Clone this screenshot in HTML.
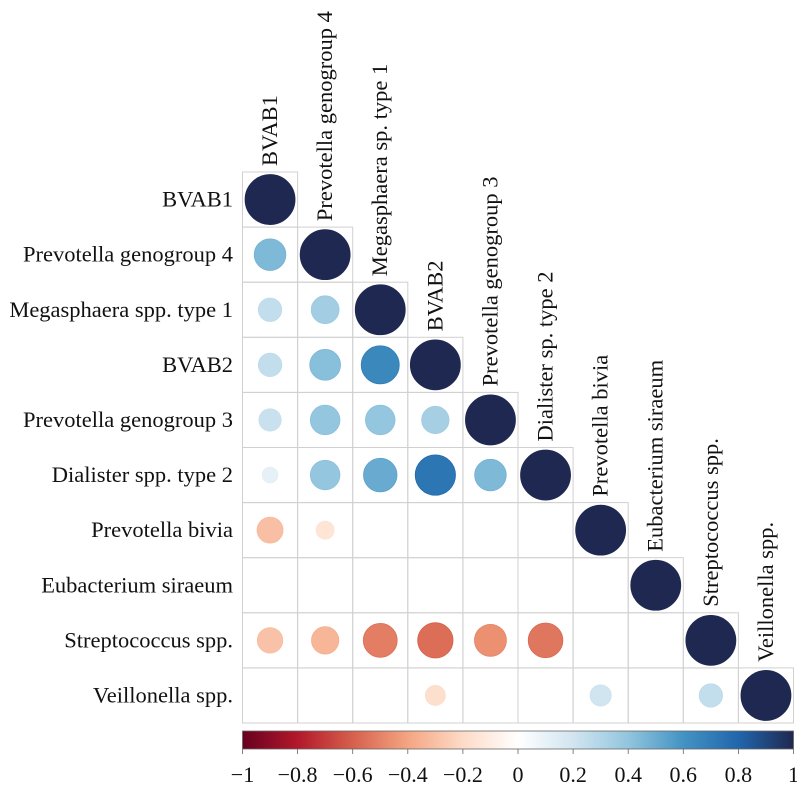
<!DOCTYPE html>
<html><head><meta charset="utf-8"><style>
body{margin:0;background:#fff}
svg{display:block;font-family:"Liberation Serif",serif}
</style></head><body>
<svg id="chart" width="797" height="791" viewBox="0 0 797 791" xmlns="http://www.w3.org/2000/svg">
<defs>
<linearGradient id="cbar" x1="0" x2="1" y1="0" y2="0">
<stop offset="0" stop-color="#67001f"/><stop offset="0.1" stop-color="#b2182b"/>
<stop offset="0.2" stop-color="#d6604d"/><stop offset="0.3" stop-color="#f4a582"/>
<stop offset="0.4" stop-color="#fddbc7"/><stop offset="0.5" stop-color="#ffffff"/>
<stop offset="0.6" stop-color="#d1e5f0"/><stop offset="0.7" stop-color="#92c5de"/>
<stop offset="0.8" stop-color="#4393c3"/><stop offset="0.9" stop-color="#2166ac"/>
<stop offset="1" stop-color="#1f2850"/>
</linearGradient>
</defs>
<g id="grid"></g><g id="marks"></g><g id="labels"></g>
<rect x="242.5" y="731" width="551" height="18" fill="url(#cbar)" stroke="#666" stroke-width="0.8"/>
<g id="cbticks"></g>
</svg>
<script>
const names = ["BVAB1","Prevotella genogroup 4","Megasphaera spp. type 1","BVAB2","Prevotella genogroup 3","Dialister spp. type 2","Prevotella bivia","Eubacterium siraeum","Streptococcus spp.","Veillonella spp."];
const colNames = ["BVAB1","Prevotella genogroup 4","Megasphaera sp. type 1","BVAB2","Prevotella genogroup 3","Dialister sp. type 2","Prevotella bivia","Eubacterium siraeum","Streptococcus spp.","Veillonella spp."];
const row0 = [1];
const row1 = [0.40,1];
const row2 = [0.22,0.31,1];
const row3 = [0.22,0.38,0.58,1];
const row4 = [0.20,0.35,0.35,0.30,1];
const row5 = [0.10,0.35,0.45,0.65,0.40,1];
const row6 = [-0.27,-0.13,0,0,0,0,1];
const row7 = [0,0,0,0,0,0,0,1];
const row8 = [-0.26,-0.30,-0.46,-0.50,-0.41,-0.48,0,0,1];
const row9 = [0,0,0,-0.16,0,0,0.18,0,0.22,1];
const rows = [row0,row1,row2,row3,row4,row5,row6,row7,row8,row9];
const tickVals = [-1,-0.8,-0.6,-0.4,-0.2,0,0.2,0.4,0.6,0.8,1];
const tickLabels = ["\u22121","\u22120.8","\u22120.6","\u22120.4","\u22120.2","0","0.2","0.4","0.6","0.8","1"];

const X0=242.5, Y0=172, C=55.1, NS="http://www.w3.org/2000/svg";
const xc = j => X0 + C*j + C/2;
const yc = i => Y0 + C*i + C/2;
const rad = v => 25*Math.sqrt(Math.abs(v));
const stops=[[103,0,31],[178,24,43],[214,96,77],[244,165,130],[253,219,199],[255,255,255],[209,229,240],[146,197,222],[67,147,195],[33,102,172],[31,40,80]];
function color(v){const t=(v+1)/2*10;const k=Math.min(9,Math.floor(t));const f=t-k;const a=stops[k],b=stops[k+1];
return "rgb("+a.map((c,i)=>Math.round(c+(b[i]-c)*f)).join(",")+")";}
function mk(tag,attrs,parent){const e=document.createElementNS(NS,tag);for(const k in attrs)e.setAttribute(k,attrs[k]);parent.appendChild(e);return e;}
const grid=document.getElementById('grid'),marks=document.getElementById('marks'),labels=document.getElementById('labels');
rows.forEach((r,i)=>{
  r.forEach((v,j)=>{
    const cell=mk('rect',{x:X0+C*j,y:Y0+C*i,width:C,height:C,fill:'none',stroke:'#d0d0d0','stroke-width':1},grid);
    
    
    if(v!==0){
      const c=mk('circle',{cx:xc(j),cy:yc(i),r:rad(v),fill:color(v*1.12>1?1:v*1.12),stroke:color(v*1.2>1?1:v*1.2),'stroke-width':0.8},marks);
      
      
    }
  });
  const t=mk('text',{x:233,y:yc(i)+7,'text-anchor':'end','font-size':22.5,fill:'#111'},labels);
  t.textContent=names[i];
  
  
  const cx=xc(i)+7, by=Y0+C*i-6;
  const ct=mk('text',{x:cx,y:by,transform:'rotate(-90 '+cx+' '+by+')','font-size':22.5,fill:'#111'},labels);
  ct.textContent=colNames[i];
  
  
});
const cb=document.getElementById('cbticks');
tickVals.forEach((v,k)=>{
  const x=X0+(v+1)/2*551;
  const l=mk('line',{x1:x,x2:x,y1:749,y2:754,stroke:'#666','stroke-width':0.8},cb);
  
  
  const t=mk('text',{x:x,y:782,'text-anchor':'middle','font-size':22,fill:'#111'},cb);
  t.textContent=tickLabels[k];
  
  
});
</script>
</body></html>
